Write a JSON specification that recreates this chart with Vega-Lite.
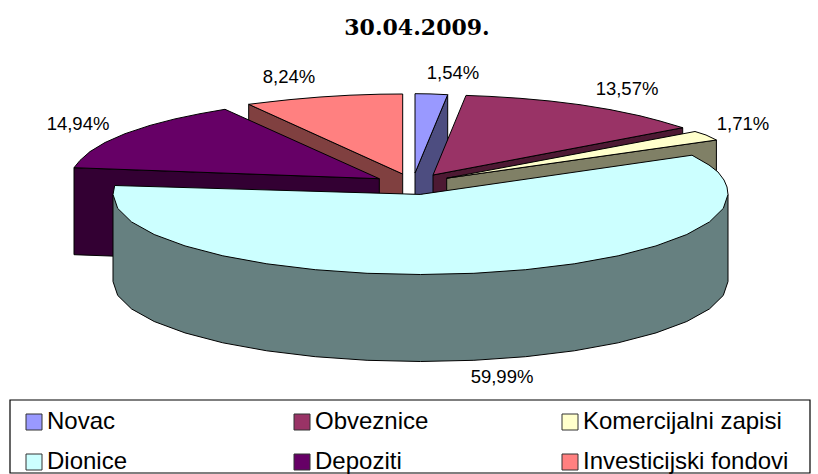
{
"$schema":"https://vega.github.io/schema/vega-lite/v6.json",
"width":818,"height":474,"padding":0,"autosize":{"type":"none"},
"background":"white",
"view":{"stroke":null},
"config":{"font":"Liberation Sans"},
"layer":[
{"data":{"values":[{"left":10,"right":810,"top":400,"bottom":473}]},
 "mark":{"type":"rect","fill":null,"stroke":"black","strokeWidth":1.2},
 "encoding":{"x":{"field":"left","type":"quantitative","scale":{"domain":[0,818],"nice":false,"zero":false},"axis":null},"x2":{"field":"right"},"y":{"field":"top","type":"quantitative","scale":{"domain":[474,0],"nice":false,"zero":false},"axis":null},"y2":{"field":"bottom"}}},
{"data":{"values":[
{"piece":"a1","shade":"Investicijski bok","x":248.7,"y":104.3},{"piece":"a1","shade":"Investicijski bok","x":402.7,"y":174},{"piece":"a1","shade":"Investicijski bok","x":402.7,"y":261},{"piece":"a1","shade":"Investicijski bok","x":248.7,"y":191},{"piece":"a1","shade":"Investicijski bok","x":248.7,"y":104.3},
{"piece":"a2","shade":"Investicijski fondovi","x":402.7,"y":174},{"piece":"a2","shade":"Investicijski fondovi","x":402.7,"y":94},{"piece":"a2","shade":"Investicijski fondovi","x":380,"y":94.2},{"piece":"a2","shade":"Investicijski fondovi","x":350,"y":95.2},{"piece":"a2","shade":"Investicijski fondovi","x":320,"y":97},{"piece":"a2","shade":"Investicijski fondovi","x":290,"y":99.6},{"piece":"a2","shade":"Investicijski fondovi","x":270,"y":101.8},{"piece":"a2","shade":"Investicijski fondovi","x":248.7,"y":104.3},{"piece":"a2","shade":"Investicijski fondovi","x":402.7,"y":174},
{"piece":"b1","shade":"Novac bok","x":447.7,"y":94.7},{"piece":"b1","shade":"Novac bok","x":415,"y":173},{"piece":"b1","shade":"Novac bok","x":415,"y":260},{"piece":"b1","shade":"Novac bok","x":447.7,"y":260},{"piece":"b1","shade":"Novac bok","x":447.7,"y":94.7},
{"piece":"b2","shade":"Novac","x":415,"y":173},{"piece":"b2","shade":"Novac","x":415,"y":93.7},{"piece":"b2","shade":"Novac","x":430,"y":93.9},{"piece":"b2","shade":"Novac","x":447.7,"y":94.7},{"piece":"b2","shade":"Novac","x":415,"y":173},
{"piece":"c1","shade":"Depoziti bok","x":74,"y":167.7},{"piece":"c1","shade":"Depoziti bok","x":379.3,"y":178.7},{"piece":"c1","shade":"Depoziti bok","x":379.3,"y":265.7},{"piece":"c1","shade":"Depoziti bok","x":74,"y":254.7},{"piece":"c1","shade":"Depoziti bok","x":74,"y":167.7},
{"piece":"c2","shade":"Depoziti","x":379.3,"y":178.7},{"piece":"c2","shade":"Depoziti","x":225,"y":109.3},{"piece":"c2","shade":"Depoziti","x":200,"y":113.7},{"piece":"c2","shade":"Depoziti","x":175,"y":118.9},{"piece":"c2","shade":"Depoziti","x":150,"y":125.4},{"piece":"c2","shade":"Depoziti","x":125,"y":133.7},{"piece":"c2","shade":"Depoziti","x":105,"y":142.5},{"piece":"c2","shade":"Depoziti","x":90,"y":151.6},{"piece":"c2","shade":"Depoziti","x":80,"y":160.4},{"piece":"c2","shade":"Depoziti","x":74,"y":167.7},{"piece":"c2","shade":"Depoziti","x":379.3,"y":178.7},
{"piece":"d1","shade":"Obveznice bok","x":682.7,"y":127.7},{"piece":"d1","shade":"Obveznice bok","x":433,"y":175},{"piece":"d1","shade":"Obveznice bok","x":433,"y":262},{"piece":"d1","shade":"Obveznice bok","x":682.7,"y":214},{"piece":"d1","shade":"Obveznice bok","x":682.7,"y":127.7},
{"piece":"d2","shade":"Obveznice","x":433,"y":175},{"piece":"d2","shade":"Obveznice","x":466,"y":95.4},{"piece":"d2","shade":"Obveznice","x":490,"y":96.4},{"piece":"d2","shade":"Obveznice","x":520,"y":98.3},{"piece":"d2","shade":"Obveznice","x":550,"y":101},{"piece":"d2","shade":"Obveznice","x":580,"y":104.7},{"piece":"d2","shade":"Obveznice","x":610,"y":109.6},{"piece":"d2","shade":"Obveznice","x":640,"y":115.8},{"piece":"d2","shade":"Obveznice","x":660,"y":121},{"piece":"d2","shade":"Obveznice","x":682.7,"y":127.7},{"piece":"d2","shade":"Obveznice","x":433,"y":175},
{"piece":"e1","shade":"Komercijalni bok","x":716.4,"y":140},{"piece":"e1","shade":"Komercijalni bok","x":446.7,"y":178.2},{"piece":"e1","shade":"Komercijalni bok","x":446.7,"y":265},{"piece":"e1","shade":"Komercijalni bok","x":716.4,"y":227},{"piece":"e1","shade":"Komercijalni bok","x":716.4,"y":140},
{"piece":"e2","shade":"Komercijalni zapisi","x":446.7,"y":178.2},{"piece":"e2","shade":"Komercijalni zapisi","x":695,"y":131.5},{"piece":"e2","shade":"Komercijalni zapisi","x":706,"y":135},{"piece":"e2","shade":"Komercijalni zapisi","x":716.4,"y":140},{"piece":"e2","shade":"Komercijalni zapisi","x":446.7,"y":178.2},
{"piece":"f1","shade":"Dionice bok","x":728,"y":194.5},{"piece":"f1","shade":"Dionice bok","x":728,"y":281.5},{"piece":"f1","shade":"Dionice bok","x":723.3,"y":295.4},{"piece":"f1","shade":"Dionice bok","x":709.5,"y":308.9},{"piece":"f1","shade":"Dionice bok","x":686.8,"y":321.5},{"piece":"f1","shade":"Dionice bok","x":656,"y":332.9},{"piece":"f1","shade":"Dionice bok","x":618.2,"y":342.8},{"piece":"f1","shade":"Dionice bok","x":574.3,"y":350.8},{"piece":"f1","shade":"Dionice bok","x":525.7,"y":356.7},{"piece":"f1","shade":"Dionice bok","x":473.9,"y":360.3},{"piece":"f1","shade":"Dionice bok","x":420.5,"y":361.5},{"piece":"f1","shade":"Dionice bok","x":367.1,"y":360.3},{"piece":"f1","shade":"Dionice bok","x":315.3,"y":356.7},{"piece":"f1","shade":"Dionice bok","x":266.8,"y":350.8},{"piece":"f1","shade":"Dionice bok","x":222.8,"y":342.8},{"piece":"f1","shade":"Dionice bok","x":185,"y":332.9},{"piece":"f1","shade":"Dionice bok","x":154.2,"y":321.5},{"piece":"f1","shade":"Dionice bok","x":131.5,"y":308.9},{"piece":"f1","shade":"Dionice bok","x":117.7,"y":295.4},{"piece":"f1","shade":"Dionice bok","x":113,"y":281.5},{"piece":"f1","shade":"Dionice bok","x":113,"y":194.5},{"piece":"f1","shade":"Dionice bok","x":728,"y":194.5},
{"piece":"f2","shade":"Dionice","x":420.3,"y":194.4},{"piece":"f2","shade":"Dionice","x":692,"y":155.2},{"piece":"f2","shade":"Dionice","x":709,"y":165},{"piece":"f2","shade":"Dionice","x":718,"y":172},{"piece":"f2","shade":"Dionice","x":724,"y":180},{"piece":"f2","shade":"Dionice","x":727,"y":187},{"piece":"f2","shade":"Dionice","x":728,"y":194.5},{"piece":"f2","shade":"Dionice","x":723.3,"y":208.4},{"piece":"f2","shade":"Dionice","x":709.5,"y":221.9},{"piece":"f2","shade":"Dionice","x":686.8,"y":234.5},{"piece":"f2","shade":"Dionice","x":656,"y":245.9},{"piece":"f2","shade":"Dionice","x":618.2,"y":255.8},{"piece":"f2","shade":"Dionice","x":574.3,"y":263.8},{"piece":"f2","shade":"Dionice","x":525.7,"y":269.7},{"piece":"f2","shade":"Dionice","x":473.9,"y":273.3},{"piece":"f2","shade":"Dionice","x":420.5,"y":274.5},{"piece":"f2","shade":"Dionice","x":367.1,"y":273.3},{"piece":"f2","shade":"Dionice","x":315.3,"y":269.7},{"piece":"f2","shade":"Dionice","x":266.8,"y":263.8},{"piece":"f2","shade":"Dionice","x":222.8,"y":255.8},{"piece":"f2","shade":"Dionice","x":185,"y":245.9},{"piece":"f2","shade":"Dionice","x":154.2,"y":234.5},{"piece":"f2","shade":"Dionice","x":131.5,"y":221.9},{"piece":"f2","shade":"Dionice","x":117.7,"y":208.4},{"piece":"f2","shade":"Dionice","x":113,"y":194.5},{"piece":"f2","shade":"Dionice","x":114.7,"y":185.5},{"piece":"f2","shade":"Dionice","x":420.3,"y":194.4}
]},
"transform":[{"window":[{"op":"row_number","as":"seq"}]}],
"mark":{"type":"line","stroke":"black","strokeWidth":1,"strokeJoin":"miter","clip":false},
"encoding":{
 "x":{"field":"x","type":"quantitative","scale":{"domain":[0,818],"nice":false,"zero":false},"axis":null},
 "y":{"field":"y","type":"quantitative","scale":{"domain":[474,0],"nice":false,"zero":false},"axis":null},
 "detail":{"field":"piece"},
 "order":{"field":"seq","type":"quantitative"},
 "fill":{"field":"shade","type":"nominal",
  "scale":{"domain":["Novac","Obveznice","Komercijalni zapisi","Dionice","Depoziti","Investicijski fondovi","Novac bok","Obveznice bok","Komercijalni bok","Dionice bok","Depoziti bok","Investicijski bok"],
   "range":["#9999ff","#993366","#ffffcc","#ccffff","#660066","#ff8080","#4d4d80","#4d1933","#808066","#668080","#330033","#804040"]},
  "legend":{"title":null,"orient":"none","direction":"horizontal","legendX":22,"legendY":410,"columns":3,"gridAlign":"all","columnPadding":37,"rowPadding":16,"padding":0,
   "values":["Novac","Obveznice","Komercijalni zapisi","Dionice","Depoziti","Investicijski fondovi"],
   "symbolType":"square","symbolSize":256,"symbolStrokeColor":"#333333","symbolStrokeWidth":1,"symbolOpacity":1,
   "labelFont":"Liberation Sans","labelFontSize":24,"labelColor":"black","labelOffset":1,"labelLimit":300}}
}},
{"data":{"values":[
{"name":"Novac","share":1.54,"label":"1,54%","x":453,"y":73},
{"name":"Obveznice","share":13.57,"label":"13,57%","x":627,"y":89},
{"name":"Komercijalni zapisi","share":1.71,"label":"1,71%","x":743,"y":124},
{"name":"Dionice","share":59.99,"label":"59,99%","x":502,"y":377},
{"name":"Depoziti","share":14.94,"label":"14,94%","x":78,"y":124},
{"name":"Investicijski fondovi","share":8.24,"label":"8,24%","x":289,"y":77}
]},
"mark":{"type":"text","font":"Liberation Sans","fontSize":18.5,"color":"black","baseline":"middle","align":"center"},
"encoding":{
 "x":{"field":"x","type":"quantitative","scale":{"domain":[0,818],"nice":false,"zero":false},"axis":null},
 "y":{"field":"y","type":"quantitative","scale":{"domain":[474,0],"nice":false,"zero":false},"axis":null},
 "text":{"field":"label"}}},
{"data":{"values":[{"title":"30.04.2009.","x":417,"y":28}]},
"mark":{"type":"text","font":"DejaVu Serif","fontSize":22,"fontWeight":"bold","color":"black","baseline":"middle","align":"center"},
"encoding":{
 "x":{"field":"x","type":"quantitative","scale":{"domain":[0,818],"nice":false,"zero":false},"axis":null},
 "y":{"field":"y","type":"quantitative","scale":{"domain":[474,0],"nice":false,"zero":false},"axis":null},
 "text":{"field":"title"}}}
]
}
